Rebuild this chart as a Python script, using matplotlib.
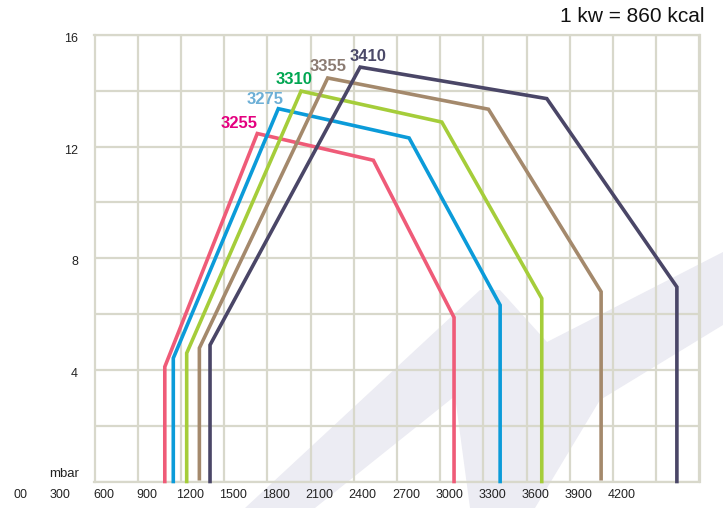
import matplotlib
matplotlib.use("Agg")
import matplotlib.pyplot as plt
from matplotlib.patches import Polygon
import matplotlib.transforms as mtransforms

plt.rcParams['font.family'] = ['Liberation Sans', 'DejaVu Sans']

# curve data: pressure (mbar) vs output (kW)
models = ['3255', '3275', '3310', '3355', '3410']
x_3255 = [1088, 1088, 1730, 2536, 3096, 3096]
y_3255 = [0, 4.11, 12.47, 11.51, 5.88, 0]
x_3275 = [1147, 1147, 1876, 2784, 3416, 3416]
y_3275 = [0, 4.42, 13.36, 12.31, 6.32, 0]
x_3310 = [1240, 1240, 2034, 3011, 3705, 3705]
y_3310 = [0, 4.60, 13.99, 12.88, 6.56, 0]
x_3355 = [1328, 1328, 2219, 3335, 4117, 4117]
y_3355 = [0.1, 4.78, 14.46, 13.34, 6.80, 0.1]
x_3410 = [1402, 1402, 2444, 3740, 4643, 4643]
y_3410 = [0, 4.89, 14.85, 13.72, 6.97, 0]

# label anchor for each model name
label_x = [1607, 1784, 1985, 2221, 2499]
label_y = [12.84, 13.70, 14.41, 14.88, 15.23]

xtick_vals = [0, 300, 600, 900, 1200, 1500, 1800, 2100, 2400, 2700, 3000, 3300, 3600, 3900, 4200]
xtick_labels = ['00', '300', '600', '900', '1200', '1500', '1800', '2100', '2400', '2700',
                '3000', '3300', '3600', '3900', '4200']
ytick_vals = [4, 8, 12, 16]
ytick_labels = ['4', '8', '12', '16']

line_colors = ['#ef5b78', '#0b9bd9', '#a5cd3a', '#a4896c', '#4a4667']
text_colors = ['#e4007f', '#6cafd6', '#00a651', '#8b7b72', '#4b4968']
grid_col = '#d8d8cb'

fig = plt.figure(figsize=(7.23, 5.08), dpi=100)
W, H = 723, 508

# faint logo watermark behind the grid (pixel coords, y from top)
wm = [(245, 508), (480, 290), (500, 290), (547, 342), (723, 252), (723, 325),
      (600, 400), (535, 508), (470, 508), (455, 396), (315, 508)]
pts = [(px / W, 1 - py / H) for px, py in wm]
fig.patches.append(Polygon(pts, closed=True, transform=fig.transFigure,
                           facecolor='#ececf3', edgecolor='none', zorder=0))

ax = fig.add_axes([94.5 / W, 1 - 481.5 / H, 605 / W, 446.5 / H])
ax.set_zorder(1)
ax.patch.set_alpha(0)
ax.set_xlim(600, 4800)
ax.set_ylim(0, 16)

ax.set_xticks(range(600, 4801, 300))
ax.set_yticks(range(0, 17, 2))
ax.set_xticklabels([])
ax.set_yticklabels([])
ax.tick_params(length=0)
ax.grid(True, color=grid_col, linewidth=1.6)
ax.set_axisbelow(True)
for s in ax.spines.values():
    s.set_color(grid_col)
    s.set_linewidth(1.6)

series = [(x_3255, y_3255), (x_3275, y_3275), (x_3310, y_3310), (x_3355, y_3355), (x_3410, y_3410)]
for (xs, ys), c in zip(series, line_colors):
    ax.plot(xs, ys, color=c, linewidth=2.6, solid_joinstyle='miter', clip_on=False, zorder=3)

for name, lx, ly, c in zip(models, label_x, label_y, text_colors):
    ax.text(lx, ly, name, color=c, fontsize=12, fontweight='bold', ha='center', va='center')

# x labels sit a little right of the gridlines
xtrans = mtransforms.blended_transform_factory(ax.transData, fig.transFigure)
for v, lab in zip(xtick_vals, xtick_labels):
    dx = 12.5 if lab == '00' else 9
    ax.text(v, 1 - 495 / H, lab, fontsize=9, ha='center', va='center', color='#222222',
            transform=xtrans + mtransforms.ScaledTranslation(dx / 100, 0, fig.dpi_scale_trans),
            clip_on=False)

ytrans = mtransforms.blended_transform_factory(fig.transFigure, ax.transData)
for v, lab in zip(ytick_vals, ytick_labels):
    ax.text(78 / W, v, lab, fontsize=9, ha='right', va='center', color='#222222',
            transform=ytrans + mtransforms.ScaledTranslation(0, -4 / 100, fig.dpi_scale_trans),
            clip_on=False)

fig.text(79 / W, 1 - 474 / H, 'mbar', fontsize=9.5, ha='right', va='center', color='#222222')
fig.text(705 / W, 1 - 16 / H, '1 kw = 860 kcal', fontsize=15, ha='right', va='center', color='#111111')

fig.savefig('out.png', dpi=100)
